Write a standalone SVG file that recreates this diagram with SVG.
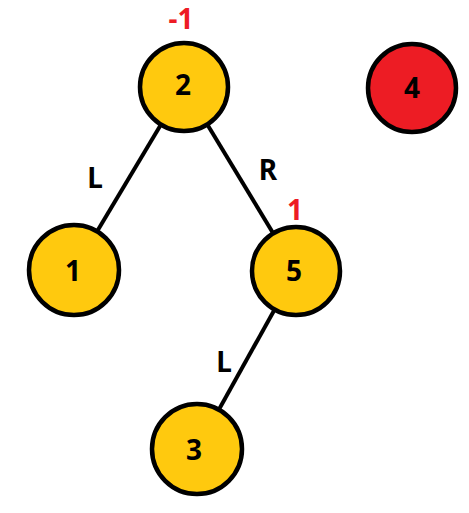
<svg xmlns="http://www.w3.org/2000/svg" width="469" height="513" viewBox="0 0 469 513">
<style>
.n{stroke:#000;stroke-width:4.5}
.y{fill:#FFC90E}
.r{fill:#ED1C24}
.t{font-family:"Noto Sans","Open Sans",sans-serif;font-weight:bold;font-size:28px;text-anchor:middle;fill:#000}
.e{stroke:#000;stroke-width:4;fill:none}
.b{font-family:"Noto Sans","Open Sans",sans-serif;font-weight:bold;font-size:28px;text-anchor:middle;fill:#ED1C24}
</style>
<rect width="469" height="513" fill="#fff"/>
<g id="connectors">
<line class="e" x1="184" y1="86" x2="74" y2="270"/>
<line class="e" x1="184" y1="86" x2="296" y2="271"/>
<line class="e" x1="296" y1="271" x2="197" y2="449"/>
<text class="t" x="95" y="188">L</text>
<text class="t" x="268" y="180">R</text>
<text class="t" x="224" y="372">L</text>
</g>
<g id="node2"><circle class="n y" cx="184" cy="87" r="44"/><text class="t" x="183" y="95">2</text><text class="b" x="181" y="29">-1</text></g>
<g id="node4"><circle class="n r" cx="412" cy="88" r="44"/><text class="t" x="412" y="98">4</text></g>
<g id="node1"><circle class="n y" cx="74" cy="270" r="45"/><text class="t" x="73" y="281">1</text></g>
<g id="node5"><circle class="n y" cx="296" cy="271" r="44"/><text class="t" x="294" y="281">5</text><text class="b" x="295" y="220">1</text></g>
<g id="node3"><circle class="n y" cx="197" cy="449" r="45"/><text class="t" x="194" y="460">3</text></g>
</svg>
